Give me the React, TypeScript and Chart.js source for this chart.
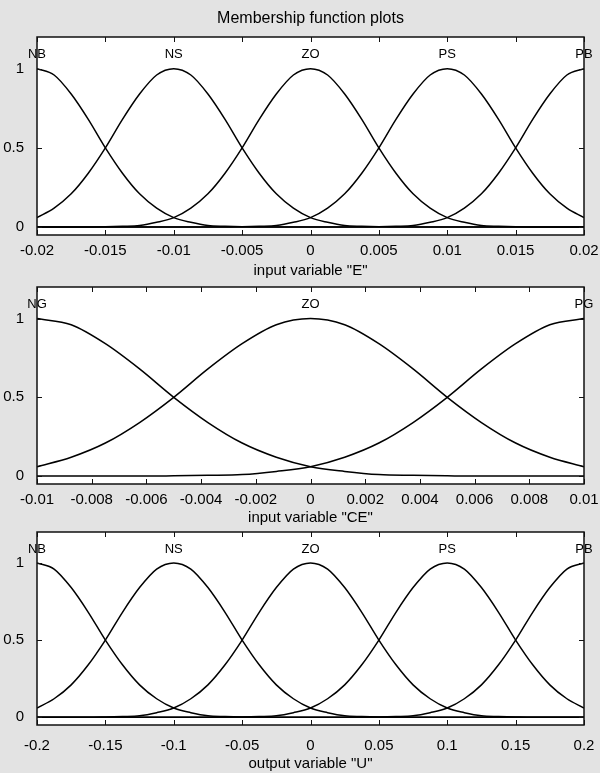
import React, { useEffect, useRef } from "react";
import { Chart, registerables } from "chart.js";

Chart.register(...registerables);

// ---------- DATA ----------
const TITLE = "Membership function plots";

const Y_TICKS = [0, 0.5, 1];
const Y_TICK_LABELS = ["0", "0.5", "1"];

// input variable "E"
const E_X = [
  -0.02, -0.01875, -0.0175, -0.01625, -0.015, -0.01375, -0.0125, -0.01125, -0.01,
  -0.00875, -0.0075, -0.00625, -0.005, -0.00375, -0.0025, -0.00125, 0, 0.00125,
  0.0025, 0.00375, 0.005, 0.00625, 0.0075, 0.00875, 0.01, 0.01125, 0.0125, 0.01375,
  0.015, 0.01625, 0.0175, 0.01875, 0.02,
];
const E_NB = [1, 0.96, 0.84, 0.68, 0.5, 0.34, 0.21, 0.12, 0.06, 0.03, 0.01, 0.005, 0.002, 0, 0, 0, 0, 0, 0, 0, 0, 0, 0, 0, 0, 0, 0, 0, 0, 0, 0, 0, 0];
const E_NS = [0.06, 0.12, 0.21, 0.34, 0.5, 0.68, 0.84, 0.96, 1, 0.96, 0.84, 0.68, 0.5, 0.34, 0.21, 0.12, 0.06, 0.03, 0.01, 0.005, 0.002, 0, 0, 0, 0, 0, 0, 0, 0, 0, 0, 0, 0];
const E_ZO = [0, 0, 0, 0, 0.002, 0.005, 0.01, 0.03, 0.06, 0.12, 0.21, 0.34, 0.5, 0.68, 0.84, 0.96, 1, 0.96, 0.84, 0.68, 0.5, 0.34, 0.21, 0.12, 0.06, 0.03, 0.01, 0.005, 0.002, 0, 0, 0, 0];
const E_PS = [0, 0, 0, 0, 0, 0, 0, 0, 0, 0, 0, 0, 0.002, 0.005, 0.01, 0.03, 0.06, 0.12, 0.21, 0.34, 0.5, 0.68, 0.84, 0.96, 1, 0.96, 0.84, 0.68, 0.5, 0.34, 0.21, 0.12, 0.06];
const E_PB = [0, 0, 0, 0, 0, 0, 0, 0, 0, 0, 0, 0, 0, 0, 0, 0, 0, 0, 0, 0, 0.002, 0.005, 0.01, 0.03, 0.06, 0.12, 0.21, 0.34, 0.5, 0.68, 0.84, 0.96, 1];
const E_NAMES = ["NB", "NS", "ZO", "PS", "PB"];
const E_CENTERS = [-0.02, -0.01, 0, 0.01, 0.02];
const E_TICKS = [-0.02, -0.015, -0.01, -0.005, 0, 0.005, 0.01, 0.015, 0.02];
const E_TICK_LABELS = ["-0.02", "-0.015", "-0.01", "-0.005", "0", "0.005", "0.01", "0.015", "0.02"];
const E_LABEL = 'input variable "E"';

// input variable "CE"
const CE_X = [
  -0.01, -0.00875, -0.0075, -0.00625, -0.005, -0.00375, -0.0025, -0.00125, 0,
  0.00125, 0.0025, 0.00375, 0.005, 0.00625, 0.0075, 0.00875, 0.01,
];
const CE_NG = [1, 0.96, 0.84, 0.68, 0.5, 0.34, 0.21, 0.12, 0.06, 0.03, 0.01, 0.005, 0.002, 0, 0, 0, 0];
const CE_ZO = [0.06, 0.12, 0.21, 0.34, 0.5, 0.68, 0.84, 0.96, 1, 0.96, 0.84, 0.68, 0.5, 0.34, 0.21, 0.12, 0.06];
const CE_PG = [0, 0, 0, 0, 0.002, 0.005, 0.01, 0.03, 0.06, 0.12, 0.21, 0.34, 0.5, 0.68, 0.84, 0.96, 1];
const CE_NAMES = ["NG", "ZO", "PG"];
const CE_CENTERS = [-0.01, 0, 0.01];
const CE_TICKS = [-0.01, -0.008, -0.006, -0.004, -0.002, 0, 0.002, 0.004, 0.006, 0.008, 0.01];
const CE_TICK_LABELS = ["-0.01", "-0.008", "-0.006", "-0.004", "-0.002", "0", "0.002", "0.004", "0.006", "0.008", "0.01"];
const CE_LABEL = 'input variable "CE"';

// output variable "U"
const U_X = [
  -0.2, -0.1875, -0.175, -0.1625, -0.15, -0.1375, -0.125, -0.1125, -0.1, -0.0875,
  -0.075, -0.0625, -0.05, -0.0375, -0.025, -0.0125, 0, 0.0125, 0.025, 0.0375, 0.05,
  0.0625, 0.075, 0.0875, 0.1, 0.1125, 0.125, 0.1375, 0.15, 0.1625, 0.175, 0.1875, 0.2,
];
const U_NB = [1, 0.96, 0.84, 0.68, 0.5, 0.34, 0.21, 0.12, 0.06, 0.03, 0.01, 0.005, 0.002, 0, 0, 0, 0, 0, 0, 0, 0, 0, 0, 0, 0, 0, 0, 0, 0, 0, 0, 0, 0];
const U_NS = [0.06, 0.12, 0.21, 0.34, 0.5, 0.68, 0.84, 0.96, 1, 0.96, 0.84, 0.68, 0.5, 0.34, 0.21, 0.12, 0.06, 0.03, 0.01, 0.005, 0.002, 0, 0, 0, 0, 0, 0, 0, 0, 0, 0, 0, 0];
const U_ZO = [0, 0, 0, 0, 0.002, 0.005, 0.01, 0.03, 0.06, 0.12, 0.21, 0.34, 0.5, 0.68, 0.84, 0.96, 1, 0.96, 0.84, 0.68, 0.5, 0.34, 0.21, 0.12, 0.06, 0.03, 0.01, 0.005, 0.002, 0, 0, 0, 0];
const U_PS = [0, 0, 0, 0, 0, 0, 0, 0, 0, 0, 0, 0, 0.002, 0.005, 0.01, 0.03, 0.06, 0.12, 0.21, 0.34, 0.5, 0.68, 0.84, 0.96, 1, 0.96, 0.84, 0.68, 0.5, 0.34, 0.21, 0.12, 0.06];
const U_PB = [0, 0, 0, 0, 0, 0, 0, 0, 0, 0, 0, 0, 0, 0, 0, 0, 0, 0, 0, 0, 0.002, 0.005, 0.01, 0.03, 0.06, 0.12, 0.21, 0.34, 0.5, 0.68, 0.84, 0.96, 1];
const U_NAMES = ["NB", "NS", "ZO", "PS", "PB"];
const U_CENTERS = [-0.2, -0.1, 0, 0.1, 0.2];
const U_TICKS = [-0.2, -0.15, -0.1, -0.05, 0, 0.05, 0.1, 0.15, 0.2];
const U_TICK_LABELS = ["-0.2", "-0.15", "-0.1", "-0.05", "0", "0.05", "0.1", "0.15", "0.2"];
const U_LABEL = 'output variable "U"';

const MF_LABEL_Y = 1.09;

// ---------- STYLE ----------
const FONT = '"Liberation Sans", Arial, Helvetica, sans-serif';
const PAGE_BG = "#e3e3e3";

const matlabPlugin = {
  id: "matlabBox",
  beforeDraw(chart: any) {
    const { ctx, chartArea: a } = chart;
    ctx.save();
    ctx.fillStyle = "#ffffff";
    ctx.fillRect(a.left, a.top, a.right - a.left, a.bottom - a.top);
    ctx.restore();
  },
  afterDraw(chart: any, _args: any, opts: any) {
    const { ctx, chartArea: a } = chart;
    const xs = chart.scales.x;
    const ys = chart.scales.y;
    ctx.save();
    ctx.strokeStyle = "#111";
    ctx.lineWidth = 1.5;
    ctx.strokeRect(a.left, a.top, a.right - a.left, a.bottom - a.top);
    ctx.lineWidth = 1;
    const tl = 5;
    ctx.beginPath();
    xs.ticks.forEach((t: any) => {
      const px = Math.round(xs.getPixelForValue(t.value)) + 0.5;
      ctx.moveTo(px, a.bottom);
      ctx.lineTo(px, a.bottom - tl);
      ctx.moveTo(px, a.top);
      ctx.lineTo(px, a.top + tl);
    });
    ys.ticks.forEach((t: any) => {
      const py = Math.round(ys.getPixelForValue(t.value)) + 0.5;
      ctx.moveTo(a.left, py);
      ctx.lineTo(a.left + tl, py);
      ctx.moveTo(a.right, py);
      ctx.lineTo(a.right - tl, py);
    });
    ctx.stroke();

    ctx.fillStyle = "#000";
    ctx.font = `13px ${FONT}`;
    ctx.textAlign = "center";
    ctx.textBaseline = "middle";
    (opts.names || []).forEach((n: string, i: number) => {
      ctx.fillText(n, xs.getPixelForValue(opts.centers[i]), ys.getPixelForValue(MF_LABEL_Y));
    });
    if (opts.title) {
      ctx.font = `16px ${FONT}`;
      ctx.fillText(opts.title, (a.left + a.right) / 2, a.top - 18);
    }
    ctx.restore();
  },
};

type Sub = {
  xs: number[];
  series: number[][];
  names: string[];
  centers: number[];
  ticks: number[];
  tickLabels: string[];
  label: string;
  title?: string;
  height: number;
  padTop: number;
  axisH: number;
  tickPad: number;
  titlePad: number;
  top: number;
};

function MFChart({ sub }: { sub: Sub }) {
  const ref = useRef<HTMLCanvasElement | null>(null);
  useEffect(() => {
    if (!ref.current) return;
    const min = sub.ticks[0];
    const max = sub.ticks[sub.ticks.length - 1];
    const chart = new Chart(ref.current, {
      type: "line",
      data: {
        datasets: sub.series.map((s, i) => ({
          label: sub.names[i],
          data: sub.xs.map((x, j) => ({ x, y: s[j] })),
          borderColor: "#000",
          borderWidth: 1.5,
          pointRadius: 0,
          fill: false,
          cubicInterpolationMode: "monotone" as const,
        })),
      },
      options: {
        animation: false,
        responsive: false,
        devicePixelRatio: 1,
        layout: { padding: { left: 0, right: 16, top: sub.padTop, bottom: 0 } },
        plugins: {
          legend: { display: false },
          tooltip: { enabled: false },
          matlabBox: { names: sub.names, centers: sub.centers, title: sub.title },
        } as any,
        scales: {
          x: {
            type: "linear",
            min,
            max,
            grid: { display: false },
            border: { display: false },
            ticks: {
              color: "#000",
              font: { family: FONT, size: 15 },
              padding: sub.tickPad,
              maxRotation: 0,
              autoSkip: false,
              callback: (_v: any, i: number) => sub.tickLabels[i],
            },
            afterBuildTicks: (s: any) => {
              s.ticks = sub.ticks.map((v) => ({ value: v }));
            },
            afterFit: (s: any) => {
              s.height = sub.axisH;
              s.paddingLeft = 0;
              s.paddingRight = 0;
            },
            title: {
              display: true,
              text: sub.label,
              color: "#000",
              font: { family: FONT, size: 15 },
              padding: { top: 0, bottom: sub.titlePad },
            },
          },
          y: {
            type: "linear",
            min: -0.05,
            max: 1.2,
            grid: { display: false },
            border: { display: false },
            ticks: {
              color: "#000",
              font: { family: FONT, size: 15 },
              padding: 5,
              callback: (_v: any, i: number) => Y_TICK_LABELS[i],
            },
            afterBuildTicks: (s: any) => {
              s.ticks = Y_TICKS.map((v) => ({ value: v }));
            },
            afterFit: (s: any) => {
              s.width = 37;
              s.paddingTop = 0;
              s.paddingBottom = 0;
            },
          },
        },
      },
      plugins: [matlabPlugin as any],
    });
    return () => chart.destroy();
  }, [sub]);
  return (
    <canvas
      ref={ref}
      width={600}
      height={sub.height}
      style={{ position: "absolute", left: 0, top: sub.top, width: 600, height: sub.height }}
    />
  );
}

const SUBS: Sub[] = [
  {
    xs: E_X,
    series: [E_NB, E_NS, E_ZO, E_PS, E_PB],
    names: E_NAMES,
    centers: E_CENTERS,
    ticks: E_TICKS,
    tickLabels: E_TICK_LABELS,
    label: E_LABEL,
    title: TITLE,
    top: 0,
    height: 283,
    padTop: 37,
    axisH: 48,
    tickPad: -1,
    titlePad: 3,
  },
  {
    xs: CE_X,
    series: [CE_NG, CE_ZO, CE_PG],
    names: CE_NAMES,
    centers: CE_CENTERS,
    ticks: CE_TICKS,
    tickLabels: CE_TICK_LABELS,
    label: CE_LABEL,
    top: 283,
    height: 245,
    padTop: 4,
    axisH: 44,
    tickPad: -1,
    titlePad: 1,
  },
  {
    xs: U_X,
    series: [U_NB, U_NS, U_ZO, U_PS, U_PB],
    names: U_NAMES,
    centers: U_CENTERS,
    ticks: U_TICKS,
    tickLabels: U_TICK_LABELS,
    label: U_LABEL,
    top: 528,
    height: 245,
    padTop: 4,
    axisH: 48,
    tickPad: 4,
    titlePad: 0,
  },
];

export default function App() {
  return (
    <div
      style={{
        position: "fixed",
        left: 0,
        top: 0,
        width: 600,
        height: 773,
        background: PAGE_BG,
        overflow: "hidden",
      }}
    >
      {SUBS.map((s, i) => (
        <MFChart key={i} sub={s} />
      ))}
    </div>
  );
}
